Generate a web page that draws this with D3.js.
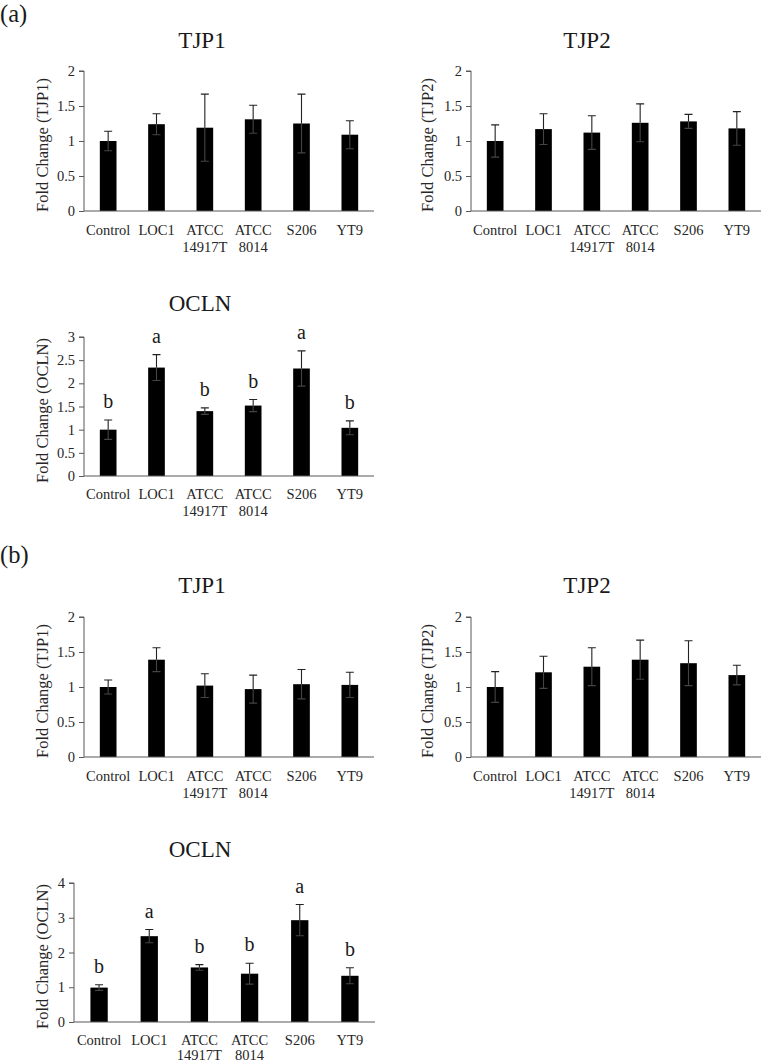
<!DOCTYPE html>
<html>
<head>
<meta charset="utf-8">
<script src="https://cdn.jsdelivr.net/npm/d3@7/dist/d3.min.js"></script>
<style>
  html, body { margin: 0; padding: 0; background: #fff; }
  svg { display: block; font-family: "Liberation Serif", "Times New Roman", serif; }
</style>
</head>
<body>
<svg id="chart" width="761" height="1063"></svg>
<script>
// ---------- data ----------
const categories = ["Control", "LOC1", "ATCC 14917T", "ATCC 8014", "S206", "YT9"];
const categoryLines = [["Control"], ["LOC1"], ["ATCC", "14917T"], ["ATCC", "8014"], ["S206"], ["YT9"]];

const aTJP1Mean = [1.00, 1.24, 1.19, 1.31, 1.25, 1.09];
const aTJP1Err  = [0.14, 0.15, 0.48, 0.20, 0.42, 0.20];

const aTJP2Mean = [1.00, 1.17, 1.12, 1.26, 1.28, 1.18];
const aTJP2Err  = [0.23, 0.22, 0.24, 0.27, 0.10, 0.24];

const aOCLNMean = [1.00, 2.34, 1.40, 1.52, 2.32, 1.04];
const aOCLNErr  = [0.21, 0.28, 0.07, 0.13, 0.38, 0.15];
const aOCLNLetters = ["b", "a", "b", "b", "a", "b"];

const bTJP1Mean = [1.00, 1.39, 1.02, 0.97, 1.04, 1.03];
const bTJP1Err  = [0.10, 0.17, 0.17, 0.20, 0.21, 0.18];

const bTJP2Mean = [1.00, 1.21, 1.29, 1.39, 1.34, 1.17];
const bTJP2Err  = [0.22, 0.23, 0.27, 0.28, 0.32, 0.14];

const bOCLNMean = [0.99, 2.47, 1.57, 1.39, 2.93, 1.33];
const bOCLNErr  = [0.08, 0.19, 0.08, 0.30, 0.45, 0.23];
const bOCLNLetters = ["b", "a", "b", "b", "a", "b"];

const tjp12Ticks = [0, 0.5, 1, 1.5, 2];
const oclnATicks = [0, 0.5, 1, 1.5, 2, 2.5, 3];
const oclnBTicks = [0, 1, 2, 3, 4];

const panelLetters = ["(a)", "(b)"];

// ---------- layout ----------
const panels = [
  { title: "TJP1", ylab: "Fold Change (TJP1)", mean: aTJP1Mean, err: aTJP1Err, ticks: tjp12Ticks, letters: null,
    x0: 84, x1: 374, y0: 71, y1: 211, tx: 202, ty: 48, lx: 42, lab: 24, lineH: 16.5 },
  { title: "TJP2", ylab: "Fold Change (TJP2)", mean: aTJP2Mean, err: aTJP2Err, ticks: tjp12Ticks, letters: null,
    x0: 471, x1: 761, y0: 71, y1: 211, tx: 587, ty: 48, lx: 427, lab: 24, lineH: 16.5 },
  { title: "OCLN", ylab: "Fold Change (OCLN)", mean: aOCLNMean, err: aOCLNErr, ticks: oclnATicks, letters: aOCLNLetters,
    x0: 84, x1: 374, y0: 337, y1: 476, tx: 200, ty: 311, lx: 42, lab: 23, lineH: 16.5 },
  { title: "TJP1", ylab: "Fold Change (TJP1)", mean: bTJP1Mean, err: bTJP1Err, ticks: tjp12Ticks, letters: null,
    x0: 84, x1: 374, y0: 617, y1: 757, tx: 202, ty: 593, lx: 42, lab: 24, lineH: 16.5 },
  { title: "TJP2", ylab: "Fold Change (TJP2)", mean: bTJP2Mean, err: bTJP2Err, ticks: tjp12Ticks, letters: null,
    x0: 471, x1: 761, y0: 617, y1: 757, tx: 587, ty: 593, lx: 427, lab: 24, lineH: 16.5 },
  { title: "OCLN", ylab: "Fold Change (OCLN)", mean: bOCLNMean, err: bOCLNErr, ticks: oclnBTicks, letters: bOCLNLetters,
    x0: 74, x1: 375, y0: 883, y1: 1022, tx: 200, ty: 857, lx: 42, lab: 22.5, lineH: 15 }
];

const svg = d3.select("#chart");
const axisColor = "#595959";
const textColor = "#1a1a1a";

// panel letters
svg.append("text").attr("x", 0).attr("y", 22).attr("font-size", 24.5).attr("fill", textColor).text(panelLetters[0]);
svg.append("text").attr("x", 0).attr("y", 563).attr("font-size", 24.5).attr("fill", textColor).text(panelLetters[1]);

panels.forEach(p => {
  const g = svg.append("g");
  const x = d3.scaleBand().domain(categories).range([p.x0, p.x1]).paddingInner(0.655).paddingOuter(0.3275);
  const y = d3.scaleLinear().domain([0, d3.max(p.ticks)]).range([p.y1, p.y0]);

  // title
  g.append("text").attr("x", p.tx).attr("y", p.ty).attr("text-anchor", "middle")
    .attr("font-size", 23).attr("fill", textColor).text(p.title);

  // y label
  g.append("text")
    .attr("transform", `translate(${p.lx},${(p.y0 + p.y1) / 2 + 4}) rotate(-90)`)
    .attr("text-anchor", "middle").attr("dominant-baseline", "central")
    .attr("font-size", 16.5).attr("fill", "#262626").text(p.ylab);

  // y axis
  const yAxis = d3.axisLeft(y).tickValues(p.ticks).tickSize(5).tickPadding(4).tickFormat(d3.format(""));
  const ya = g.append("g").attr("transform", `translate(${p.x0},0)`).call(yAxis);
  ya.select(".domain").attr("stroke", axisColor).attr("d", `M-5,${p.y0}H0V${p.y1}`);
  ya.selectAll(".tick line").attr("stroke", axisColor);
  ya.selectAll(".tick text").attr("font-family", "Liberation Serif").attr("font-size", 14.5).attr("fill", "#262626");

  // bars
  g.selectAll("rect.bar").data(categories).join("rect").attr("class", "bar")
    .attr("x", d => x(d)).attr("width", x.bandwidth())
    .attr("y", (d, i) => y(p.mean[i])).attr("height", (d, i) => y(0) - y(p.mean[i]))
    .attr("fill", "#000");

  // error bars
  const capW = 4;
  categories.forEach((c, i) => {
    const cx = x(c) + x.bandwidth() / 2;
    const top = y(p.mean[i] + p.err[i]);
    const bot = y(Math.max(0, p.mean[i] - p.err[i]));
    const mid = y(p.mean[i]);
    g.append("path").attr("d", `M${cx},${mid}V${top}M${cx - capW},${top}H${cx + capW}`)
      .attr("stroke", "#222").attr("stroke-width", 1.1).attr("fill", "none");
    g.append("path").attr("d", `M${cx},${mid}V${bot}M${cx - capW},${bot}H${cx + capW}`)
      .attr("stroke", "#444").attr("stroke-width", 1.1).attr("fill", "none");
    if (p.letters) {
      g.append("text").attr("x", cx).attr("y", top - 12).attr("text-anchor", "middle")
        .attr("font-size", 20).attr("fill", textColor).text(p.letters[i]);
    }
  });

  // x axis
  g.append("line").attr("x1", p.x0).attr("x2", p.x1).attr("y1", p.y1).attr("y2", p.y1)
    .attr("stroke", axisColor).attr("stroke-width", 1.2);

  categories.forEach((c, i) => {
    const cx = x(c) + x.bandwidth() / 2;
    const t = g.append("text").attr("text-anchor", "middle").attr("font-size", 14.5).attr("fill", "#262626");
    categoryLines[i].forEach((line, k) => {
      t.append("tspan").attr("x", cx).attr("y", p.y1 + p.lab + k * p.lineH).text(line);
    });
  });
});
</script>
</body>
</html>
